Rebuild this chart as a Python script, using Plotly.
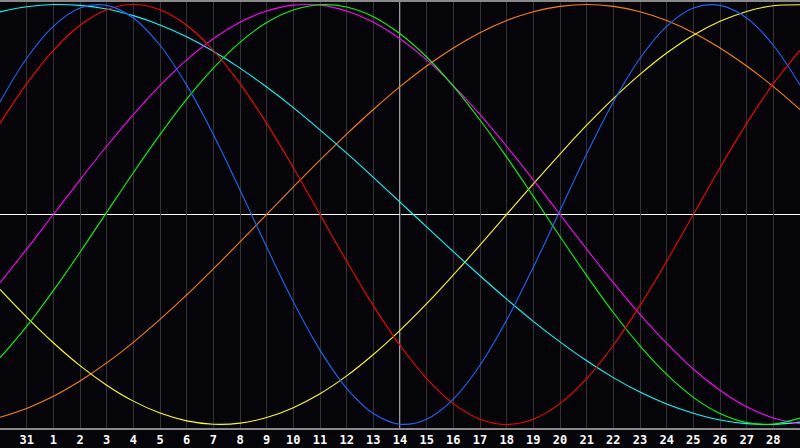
import plotly.graph_objects as go

# day positions (0..30) and tick labels
positions = list(range(31))
tick_positions = list(range(1, 30))
tick_labels = ["31"] + [str(d) for d in range(1, 29)]

blue = [53.6, 74.4, 89.6, 98.3, 99.6, 93.6, 80.6, 61.6, 38.1, 11.7, -15.5, -41.6, -64.6,
        -82.8, -94.8, -99.9, -97.5, -87.9, -71.8, -50.3, -25.1, 1.9, 28.8, 53.6, 74.4,
        89.6, 98.3, 99.6, 93.6, 80.6, 61.6]
red = [43.4, 62.3, 78.2, 90.1, 97.5, 100, 97.5, 90.1, 78.2, 62.3, 43.4, 22.3, 0, -22.3,
       -43.4, -62.3, -78.2, -90.1, -97.5, -100, -97.5, -90.1, -78.2, -62.3, -43.4, -22.3,
       0, 22.3, 43.4, 62.3, 78.2]
green = [-68.3, -53.3, -36.3, -18.0, 1.0, 19.9, 38.0, 54.9, 69.7, 82.0, 91.4, 97.4, 99.9,
         98.8, 94.2, 86.1, 75.0, 61.1, 45.0, 27.3, 8.6, -10.5, -29.1, -46.7, -62.6, -76.2,
         -87.1, -94.8, -99.1, -99.8, -97.0]
magenta = [-32.5, -16.5, 0, 16.5, 32.5, 47.6, 61.4, 73.6, 83.7, 91.6, 96.9, 99.7, 99.7,
           96.9, 91.6, 83.7, 73.6, 61.4, 47.6, 32.5, 16.5, 0, -16.5, -32.5, -47.6, -61.4,
           -73.6, -83.7, -91.6, -96.9, -99.7]
yellow = [-35.7, -48.9, -61.1, -72.0, -81.3, -88.9, -94.6, -98.3, -99.9, -99.4, -96.7,
          -92.0, -85.4, -76.9, -66.7, -55.2, -42.5, -28.8, -14.6, 0, 14.6, 28.8, 42.5, 55.2,
          66.7, 76.9, 85.4, 92.0, 96.7, 99.4, 99.9]
orange = [-96.6, -92.4, -86.6, -79.3, -70.7, -60.9, -50.0, -38.3, -25.9, -13.1, 0, 13.1,
          25.9, 38.3, 50.0, 60.9, 70.7, 79.3, 86.6, 92.4, 96.6, 99.1, 100, 99.1, 96.6, 92.4,
          86.6, 79.3, 70.7, 60.9, 50.0]
cyan = [96.5, 98.9, 100.0, 99.6, 97.9, 94.7, 90.3, 84.6, 77.7, 69.7, 60.7, 50.9, 40.3, 29.2,
        17.7, 5.9, -5.9, -17.7, -29.2, -40.3, -50.9, -60.7, -69.7, -77.7, -84.6, -90.3,
        -94.7, -97.9, -99.6, -100.0, -98.9]

today = 15

series = [
    ("orange", orange, "#ff8000"),
    ("yellow", yellow, "#ffff00"),
    ("cyan", cyan, "#00ffff"),
    ("magenta", magenta, "#ff00ff"),
    ("green", green, "#00ff00"),
    ("red", red, "#ff0000"),
    ("blue", blue, "#1a66ff"),
]

fig = go.Figure()
for name, vals, col in series:
    fig.add_trace(go.Scatter(x=positions, y=vals, mode="lines", name=name,
                             line=dict(color=col, width=1.1, shape="spline", smoothing=1.0),
                             hoverinfo="skip"))

fig.add_shape(type="line", xref="x", yref="paper", x0=today, x1=today, y0=0, y1=1,
              line=dict(color="#ffffff", width=1.2), layer="below")
fig.add_shape(type="line", xref="paper", yref="y", x0=0, x1=1, y0=0, y1=0,
              line=dict(color="#ffffff", width=1.2), layer="below")

fig.update_layout(
    width=800, height=448,
    margin=dict(l=0, r=0, t=0, b=20),
    paper_bgcolor="#050408",
    plot_bgcolor="#050408",
    showlegend=False,
    xaxis=dict(range=[0, 30], tickvals=tick_positions, ticktext=tick_labels,
               showgrid=True, gridcolor="#333333", gridwidth=1, zeroline=False,
               showline=True, linecolor="#8a8a8a", linewidth=2, mirror=True,
               ticks="", ticklabelstandoff=0,
               tickfont=dict(family="DejaVu Sans Mono", size=12, color="#ffffff", weight="bold"),
               fixedrange=True),
    yaxis=dict(range=[-101.7, 101.2], showgrid=False, zeroline=False, showticklabels=False,
               showline=True, linecolor="#8a8a8a", linewidth=2, mirror=False, ticks="",
               fixedrange=True),
)

fig.write_html("out.html", config={"displayModeBar": False},
               post_script="document.body.style.margin='0';document.body.style.background='#050408';")
